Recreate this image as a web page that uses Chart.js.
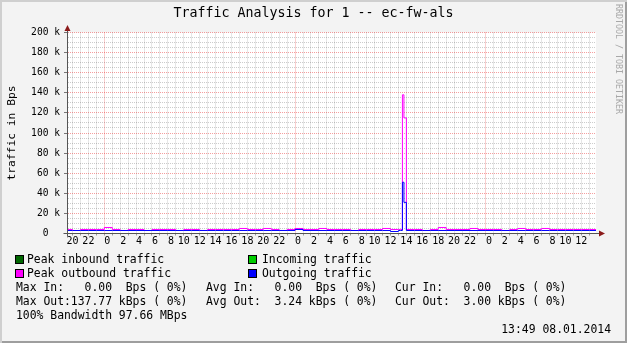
<!DOCTYPE html>
<html>
<head>
<meta charset="utf-8">
<script src="https://cdn.jsdelivr.net/npm/chart.js@4.4.1/dist/chart.umd.min.js"></script>
<style>
  html, body { margin: 0; padding: 0; background: #fff; }
  #frame {
    position: relative; width: 627px; height: 343px; overflow: hidden;
    background: #f3f3f3;
    box-shadow: inset 2px 2px 0 #cfcfcf, inset -2px -2px 0 #9e9e9e;
    font-family: "DejaVu Sans Mono", monospace; color: #000;
  }
  #plot { position: absolute; left: 0; top: 0; width: 610px; height: 255px; }
  .t { position: absolute; white-space: pre; line-height: 14px; font-size: 11.4px; }
  .box { position: absolute; width: 7px; height: 7px; border: 1px solid #000; }
  #title { position: absolute; left: 0; top: 5px; width: 627px; text-align: center;
           font-size: 13.3px; line-height: 16px; white-space: pre; }
  #side { position: absolute; left: 614px; top: 4px; writing-mode: vertical-rl;
          font-size: 8.3px; color: #a8a8a8; white-space: pre; }
</style>
</head>
<body>
<div id="frame">
  <div id="plot"><canvas id="chart"></canvas></div>
  <div id="title">Traffic Analysis for 1 -- ec-fw-als</div>
  <div id="side">RRDTOOL / TOBI OETIKER</div>
  <div id="legend"></div>
</div>
<script>
// hourly samples, first one at hour -5 (hour 0 = first midnight shown)
const startHour = -5;
const peakOut = [
  4000, 3000, 4000, 4000, 4000, 6000, 4000, 3000, 4000, 4000,
  3000, 4000, 4000, 4000, 3000, 4000, 4000, 3000, 4000, 4000,
  4000, 4000, 5000, 4000, 4000, 5000, 4000, 3000, 4000, 5000,
  4000, 4000, 5000, 4000, 4000, 4000, 3000, 4000, 4000, 4000,
  5000, 4000, 4000, 4000, 4000, 3000, 4000, 6000, 4000, 4000,
  4000, 5000, 4000, 4000, 4000, 3000, 4000, 5000, 4000, 4000,
  5000, 4000, 4000, 4000, 4000, 4000, 4000, 4000
];
const avgOut = [
  3000, 3000, 3000, 3000, 3000, 3000, 3000, 3000, 3000, 3000,
  3000, 3000, 3000, 3000, 3000, 3000, 3000, 3000, 3000, 3000,
  3000, 3000, 3000, 3000, 3000, 3000, 3000, 3000, 3000, 4000,
  3000, 3000, 3000, 3000, 3000, 3000, 3000, 3000, 3000, 3000,
  3000, 2000, 3000, 3000, 3000, 3000, 3000, 3000, 3000, 3000,
  3000, 3000, 3000, 3000, 3000, 3000, 3000, 3000, 3000, 3000,
  3000, 3000, 3000, 3000, 3000, 3000, 3000, 3000
];
// the short burst around 13:15 on the third day
const spikeHours = [37.25, 37.5, 37.69];
const spikePeak = [4000, 138000, 115000];
const spikeAvg = [3000, 51000, 31000];
// inbound is zero all along
const inboundHours = [-5, 62];
const peakIn = [0, 0];
const avgIn = [0, 0];

const xMin = -4.69, xMax = 61.85;
const yMax = 200000;

const legendRows = [
  ['Max In:   0.00  Bps ( 0%)', 'Avg In:   0.00  Bps ( 0%)', 'Cur In:   0.00  Bps ( 0%)'],
  ['Max Out:137.77 kBps ( 0%)', 'Avg Out:  3.24 kBps ( 0%)', 'Cur Out:  3.00 kBps ( 0%)']
];

function series(vals, extraX, extraY) {
  const pts = vals.map((v, i) => ({ x: startHour + i, y: v }));
  extraX.forEach((x, i) => pts.push({ x: x, y: extraY[i] }));
  return pts.sort((a, b) => a.x - b.x);
}
function flat(xs, ys) {
  return xs.map((x, i) => ({ x: x, y: ys[i] }));
}

const plotBg = {
  id: 'plotBg',
  beforeDraw(chart) {
    const { ctx, chartArea: a } = chart;
    ctx.save();
    ctx.fillStyle = '#ffffff';
    ctx.fillRect(a.left, a.top, a.right - a.left, a.bottom - a.top);
    ctx.restore();
  }
};

const axisArrows = {
  id: 'axisArrows',
  afterDraw(chart) {
    const { ctx, chartArea: a } = chart;
    const x0 = Math.round(a.left) + 0.5, y0 = Math.round(a.bottom) - 0.5;
    ctx.save();
    ctx.strokeStyle = '#555'; ctx.lineWidth = 1;
    ctx.beginPath();
    ctx.moveTo(x0, y0 + 3); ctx.lineTo(x0, 29);
    ctx.moveTo(x0 - 4, y0); ctx.lineTo(600, y0);
    ctx.stroke();
    ctx.fillStyle = '#8b1a1a';
    ctx.beginPath();
    ctx.moveTo(x0, 25); ctx.lineTo(x0 - 3, 31); ctx.lineTo(x0 + 3, 31); ctx.closePath();
    ctx.fill();
    ctx.beginPath();
    ctx.moveTo(605, y0); ctx.lineTo(599, y0 - 3); ctx.lineTo(599, y0 + 3); ctx.closePath();
    ctx.fill();
    ctx.restore();
  }
};

const line = (label, data, color, order) => ({
  label, data, order,
  borderColor: color, borderWidth: 1, pointRadius: 0, fill: false, stepped: 'before'
});

new Chart(document.getElementById('chart'), {
  type: 'line',
  data: {
    datasets: [
      line('Outgoing traffic', series(avgOut, spikeHours, spikeAvg), '#0000ff', 0),
      line('Peak outbound traffic', series(peakOut, spikeHours, spikePeak), '#ff00ff', 1),
      line('Peak inbound traffic', flat(inboundHours, peakIn), '#006600', 2),
      line('Incoming traffic', flat(inboundHours, avgIn), '#00cc00', 3)
    ]
  },
  options: {
    responsive: true,
    maintainAspectRatio: false,
    animation: false,
    layout: { padding: { top: 32.5, right: 14, left: 0, bottom: 0 } },
    plugins: { legend: { display: false }, tooltip: { enabled: false } },
    scales: {
      x: {
        type: 'linear', min: xMin, max: xMax,
        afterFit(scale) { scale.height = 21.5; },
        grid: {
          color: c => (c.tick && c.tick.value % 24 === 0) ? 'rgba(230,0,0,0.38)' : 'rgba(0,0,0,0.2)',
          tickLength: 2, tickColor: '#999'
        },
        border: { color: '#555', dash: [1, 1] },
        ticks: {
          stepSize: 1, includeBounds: false, autoSkip: false, maxRotation: 0, padding: 0,
          color: '#000', font: { family: 'DejaVu Sans Mono', size: 10 },
          callback: v => v % 2 === 0 ? String(((v % 24) + 24) % 24).padStart(2, ' ') : ''
        }
      },
      y: {
        min: 0, max: yMax,
        afterFit(scale) { scale.width = 67; },
        grid: {
          color: c => (c.tick && c.tick.value % 20000 === 0) ? 'rgba(230,0,0,0.38)' : 'rgba(0,0,0,0.2)',
          tickLength: 3,
          tickColor: c => (c.tick && c.tick.value % 20000 === 0) ? '#777' : 'rgba(0,0,0,0)'
        },
        border: { color: '#555', dash: [1, 1] },
        title: {
          display: true, text: 'traffic in Bps', color: '#000',
          font: { family: 'DejaVu Sans Mono', size: 11.3 }, padding: { top: 5.5, bottom: 0 }
        },
        ticks: {
          stepSize: 5000, autoSkip: false, padding: 4, color: '#000',
          font: { family: 'DejaVu Sans Mono', size: 9.6 },
          callback: v => v % 20000 === 0 ? (v === 0 ? '0  ' : (v / 1000) + ' k') : ''
        }
      }
    }
  },
  plugins: [plotBg, axisArrows]
});

// legend and statistics, laid out like the rrdtool footer
const leg = document.getElementById('legend');
function put(cls, left, top, html, style) {
  const d = document.createElement('div');
  d.className = cls;
  d.style.left = left + 'px'; d.style.top = top + 'px';
  if (style) d.style.cssText += style;
  if (html) d.textContent = html;
  leg.appendChild(d);
}
const keys = [
  ['#006600', 'Peak inbound traffic', 15, 27, 252],
  ['#00cc00', 'Incoming traffic', 248, 262, 252],
  ['#ff00ff', 'Peak outbound traffic', 15, 27, 266],
  ['#0000ff', 'Outgoing traffic', 248, 262, 266]
];
keys.forEach(k => {
  put('box', k[2], k[4] + 3, '', 'background:' + k[0]);
  put('t', k[3], k[4], k[1]);
});
const cols = [16, 206, 395];
legendRows.forEach((row, r) => row.forEach((s, c) => put('t', cols[c], 280 + r * 14, s)));
put('t', 16, 308, '100% Bandwidth 97.66 MBps');
put('t', 0, 322, '13:49 08.01.2014', 'width:611px;text-align:right');
</script>
</body>
</html>
